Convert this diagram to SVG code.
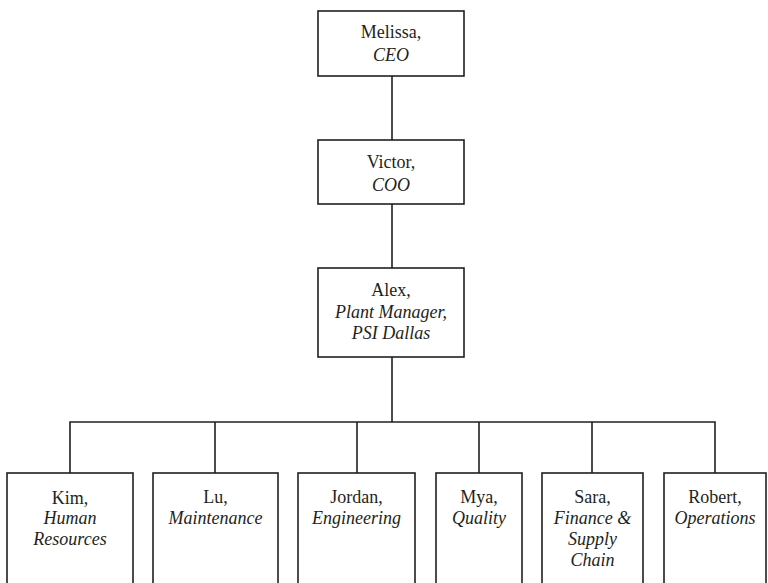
<svg xmlns="http://www.w3.org/2000/svg" width="768" height="583" viewBox="0 0 768 583">
  <style>
    .box { fill: #ffffff; stroke: #231f20; stroke-width: 1.6; }
    .wire { fill: none; stroke: #231f20; stroke-width: 1.6; }
    .lbl { font-family: "Liberation Serif", Tinos, "Noto Serif", "Nimbus Roman", "Nimbus Roman No9 L", FreeSerif, "DejaVu Serif", "Times New Roman", Times, serif; font-size: 18px; fill: #231f20; text-anchor: middle; }
    .role { font-style: italic; }
  </style>
  <rect width="768" height="583" fill="#ffffff"/>

  <!-- reporting lines -->
  <g id="connectors">
    <path class="wire" d="M392 76 V140"/>
    <path class="wire" d="M392 204 V268"/>
    <path class="wire" d="M392 357 V422"/>
    <path class="wire" d="M70 473 V422 H715 V473"/>
    <path class="wire" d="M215 422 V473"/>
    <path class="wire" d="M357 422 V473"/>
    <path class="wire" d="M479 422 V473"/>
    <path class="wire" d="M592 422 V473"/>
  </g>

  <g id="melissa" class="lbl">
    <rect class="box" x="318" y="11" width="146" height="65"/>
    <text x="391" y="37.5">Melissa,</text>
    <text class="role" x="391" y="60.5">CEO</text>
  </g>

  <g id="victor" class="lbl">
    <rect class="box" x="318" y="140" width="146" height="64"/>
    <text x="391" y="167.5">Victor,</text>
    <text class="role" x="391" y="190.5">COO</text>
  </g>

  <g id="alex" class="lbl">
    <rect class="box" x="318" y="268" width="146" height="89"/>
    <text x="391" y="296">Alex,</text>
    <text class="role" x="391" y="317.5">Plant Manager,</text>
    <text class="role" x="391" y="339">PSI Dallas</text>
  </g>

  <g id="kim" class="lbl">
    <rect class="box" x="7" y="473" width="126" height="120"/>
    <text x="70" y="504">Kim,</text>
    <text class="role" x="70" y="524">Human</text>
    <text class="role" x="70" y="545">Resources</text>
  </g>

  <g id="lu" class="lbl">
    <rect class="box" x="153" y="473" width="125" height="120"/>
    <text x="215.5" y="503">Lu,</text>
    <text class="role" x="215.5" y="524">Maintenance</text>
  </g>

  <g id="jordan" class="lbl">
    <rect class="box" x="298" y="473" width="117" height="120"/>
    <text x="356.5" y="503">Jordan,</text>
    <text class="role" x="356.5" y="524">Engineering</text>
  </g>

  <g id="mya" class="lbl">
    <rect class="box" x="436" y="473" width="86" height="120"/>
    <text x="479" y="503">Mya,</text>
    <text class="role" x="479" y="524">Quality</text>
  </g>

  <g id="sara" class="lbl">
    <rect class="box" x="542" y="473" width="101" height="120"/>
    <text x="592.5" y="503">Sara,</text>
    <text class="role" x="592.5" y="524">Finance &amp;</text>
    <text class="role" x="592.5" y="545">Supply</text>
    <text class="role" x="592.5" y="566">Chain</text>
  </g>

  <g id="robert" class="lbl">
    <rect class="box" x="664" y="473" width="102" height="120"/>
    <text x="715" y="503">Robert,</text>
    <text class="role" x="715" y="524">Operations</text>
  </g>
</svg>
